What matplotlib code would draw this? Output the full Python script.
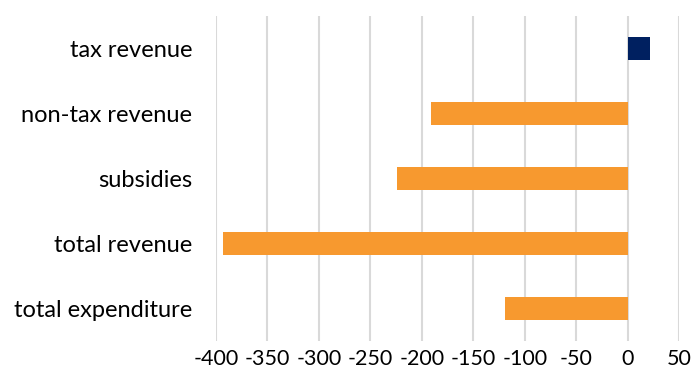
import matplotlib
matplotlib.use("Agg")
import matplotlib.pyplot as plt

categories = ["tax revenue", "non-tax revenue", "subsidies", "total revenue", "total expenditure"]
values = [22, -191, -224, -393, -119]
colors = ["#002060", "#F7992F", "#F7992F", "#F7992F", "#F7992F"]
xticks = [-400, -350, -300, -250, -200, -150, -100, -50, 0, 50]

plt.rcParams['font.family'] = ['Lato', 'DejaVu Sans']

fig = plt.figure(figsize=(6.94, 3.78), dpi=100)
ax = fig.add_axes([216/694, 1-340.8/378, (679.3-216)/694, 325/378])

y = list(range(len(categories)))
ax.barh(y, values, height=0.35, color=colors, zorder=3)
ax.set_ylim(len(categories)-0.5, -0.5)
ax.set_xlim(-400, 50)
ax.set_xticks(xticks)
ax.set_xticklabels([str(t) for t in xticks], fontsize=15.5, color="#000000")
ax.set_yticks(y)
ax.set_yticklabels(categories, fontsize=17, color="#000000")
ax.tick_params(axis='both', length=0)
ax.tick_params(axis='y', pad=17)
ax.tick_params(axis='x', pad=6)
for s in ax.spines.values():
    s.set_visible(False)
ax.grid(axis='x', color="#D9D9D9", linewidth=1.5, zorder=0)
ax.grid(axis='y', visible=False)

fig.savefig("out.png", dpi=100)
